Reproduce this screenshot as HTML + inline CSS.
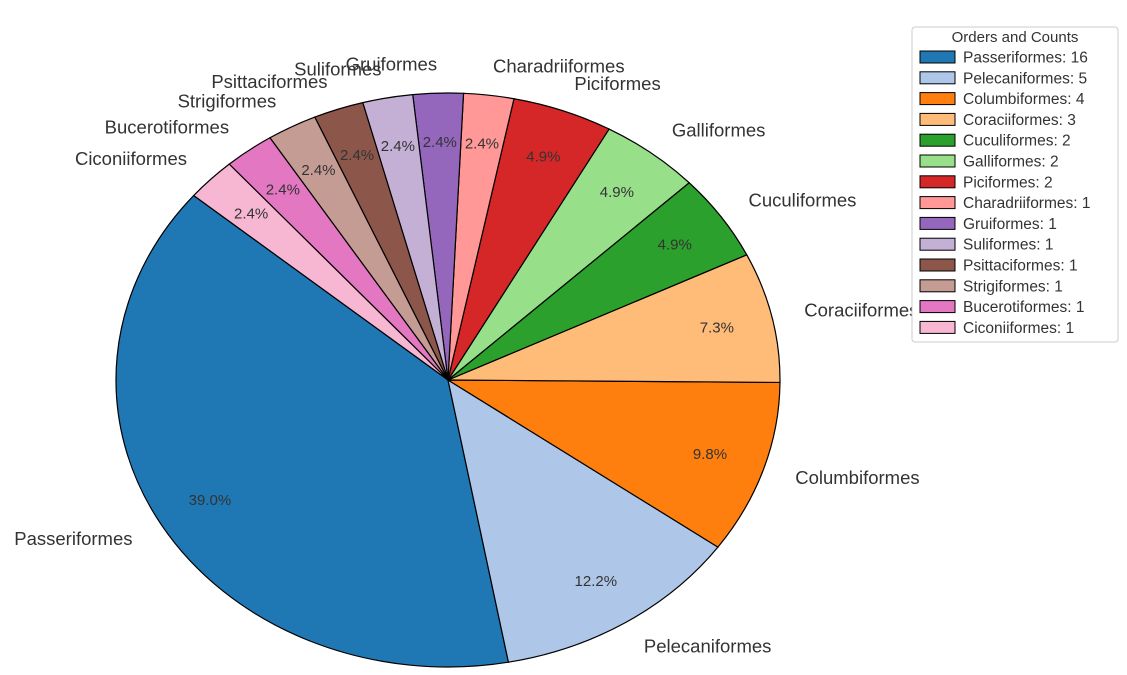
<!DOCTYPE html>
<html><head><meta charset="utf-8"><style>
body{margin:0;background:#fff;}
svg{display:block;font-family:"Liberation Sans","DejaVu Sans",sans-serif;}
</style></head><body>
<svg id="chart" width="1127" height="675" viewBox="0 0 1127 675" xmlns="http://www.w3.org/2000/svg">
<g id="slices"></g>
<g id="labels"></g>
<g id="legend">
<rect x="912" y="27" width="206" height="315" fill="#fff" stroke="#ccc" stroke-width="1" rx="3"/>
<text x="1015" y="42" text-anchor="middle" font-size="15" fill="#333">Orders and Counts</text>
</g>
</svg>
<script>
const categories=["Passeriformes","Pelecaniformes","Columbiformes","Coraciiformes","Cuculiformes","Galliformes","Piciformes","Charadriiformes","Gruiformes","Suliformes","Psittaciformes","Strigiformes","Bucerotiformes","Ciconiiformes"];
const counts=[16,5,4,3,2,2,2,1,1,1,1,1,1,1];
const colors=["#1f77b4","#aec7e8","#ff7f0e","#ffbb78","#2ca02c","#98df8a","#d62728","#ff9896","#9467bd","#c5b0d5","#8c564b","#c49c94","#e377c2","#f7b6d2"];
const NS="http://www.w3.org/2000/svg";
const cx=448,cy=380,rx=332,ry=287,start=140;
const total=counts.reduce((a,b)=>a+b,0);
const sg=document.getElementById('slices'),lg=document.getElementById('labels'),leg=document.getElementById('legend');
function pt(a,f){const r=a*Math.PI/180;return [cx+f*rx*Math.cos(r),cy-f*ry*Math.sin(r)];}
let ang=start;
counts.forEach((c,i)=>{
  const sweep=c/total*360,a0=ang,a1=ang+sweep;ang=a1;
  const p0=pt(a0,1),p1=pt(a1,1);
  const path=document.createElementNS(NS,'path');
  path.setAttribute('d',`M${cx},${cy}L${p0[0]},${p0[1]}A${rx},${ry} 0 ${sweep>180?1:0} 0 ${p1[0]},${p1[1]}Z`);
  path.setAttribute('fill',colors[i]);path.setAttribute('stroke','#000');path.setAttribute('stroke-width','1.2');
  
  
  sg.appendChild(path);
  const mid=(a0+a1)/2;
  const lp=pt(mid,1.1);
  const t=document.createElementNS(NS,'text');
  t.setAttribute('x',lp[0]);t.setAttribute('y',lp[1]+6);t.setAttribute('font-size','18.5');t.setAttribute('fill','#333');
  t.setAttribute('text-anchor',Math.cos(mid*Math.PI/180)>=0?'start':'end');
  t.textContent=categories[i];
  
  
  lg.appendChild(t);
  const pp=pt(mid,0.83);
  const u=document.createElementNS(NS,'text');
  u.setAttribute('x',pp[0]);u.setAttribute('y',pp[1]+5);u.setAttribute('font-size','15');u.setAttribute('fill','#333');u.setAttribute('text-anchor','middle');
  u.textContent=(c/total*100).toFixed(1)+'%';
  
  
  lg.appendChild(u);
  const y=51+i*20.8;
  const r=document.createElementNS(NS,'rect');
  r.setAttribute('x',920);r.setAttribute('y',y);r.setAttribute('width',35);r.setAttribute('height',12);
  r.setAttribute('fill',colors[i]);r.setAttribute('stroke','#000');r.setAttribute('stroke-width','1');
  
  
  leg.appendChild(r);
  const lt=document.createElementNS(NS,'text');
  lt.setAttribute('x',963);lt.setAttribute('y',y+11.5);lt.setAttribute('font-size','15.5');lt.setAttribute('fill','#333');
  lt.textContent=categories[i]+': '+c;
  
  
  leg.appendChild(lt);
});
</script>
</body></html>
